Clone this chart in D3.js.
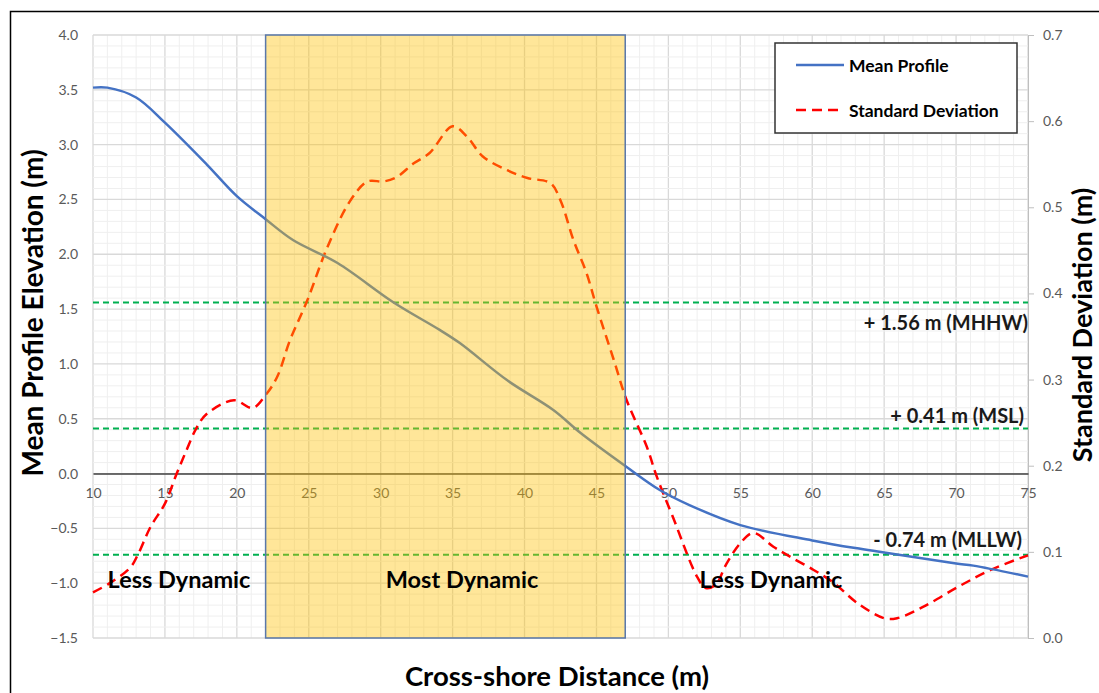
<!DOCTYPE html>
<html>
<head>
<meta charset="utf-8">
<script src="https://cdn.jsdelivr.net/npm/d3@7"></script>
<style>
  body { margin: 0; background: #fff; }
  text { font-family: Lato, "Open Sans", sans-serif; }
</style>
</head>
<body>
<div id="chart"></div>
<script>
/********** Data **********/
var profileDist = [10, 11, 13, 15, 17.9, 20, 22, 23.9, 27, 30.9, 34.1, 35.5, 38.8, 42, 43.9, 47.1, 49.4, 51.5, 55, 60, 63, 65, 70, 71.2, 75]
var profileElev = [3.52, 3.52, 3.43, 3.20, 2.82, 2.53, 2.32, 2.13, 1.92, 1.56, 1.31, 1.19, 0.85, 0.58, 0.37, 0.06, -0.15, -0.29, -0.47, -0.61, -0.68, -0.72, -0.82, -0.84, -0.94]

var sdDist = [10, 11.2, 12.6, 13.1, 14, 15, 15.8, 16.5, 17.2, 17.9, 19.8, 21.1, 22, 22.8, 23.7, 24.9, 26.3, 27.9, 29.1, 30.2, 31.1, 32.3, 33.4, 35, 36, 37.1, 38.8, 40.2, 41.8, 42.5, 43.4, 44.3, 45, 46.2, 47.1, 48.5, 49.2, 50.3, 52, 52.6, 53.3, 54, 55, 55.9, 57.3, 58.5, 60.1, 61.5, 63.1, 65, 65.9, 67.7, 70.1, 72.4, 75]
var sdValue = [0.053, 0.064, 0.082, 0.096, 0.129, 0.156, 0.19, 0.218, 0.244, 0.26, 0.276, 0.267, 0.282, 0.303, 0.346, 0.392, 0.454, 0.508, 0.53, 0.53, 0.535, 0.551, 0.563, 0.594, 0.582, 0.559, 0.543, 0.534, 0.528, 0.508, 0.462, 0.424, 0.385, 0.323, 0.276, 0.222, 0.187, 0.141, 0.071, 0.058, 0.062, 0.085, 0.11, 0.122, 0.106, 0.094, 0.079, 0.064, 0.041, 0.023, 0.023, 0.036, 0.059, 0.079, 0.096]

// tidal datums (m)
var datumValues = [1.56, 0.41, -0.74]
var datumLabels = ["+ 1.56 m (MHHW)", "+ 0.41 m (MSL)", "- 0.74 m (MLLW)"]

// zones
var zoneStart = [10, 22, 47]
var zoneEnd = [22, 47, 75]
var zoneLabels = ["Less Dynamic", "Most Dynamic", "Less Dynamic"]

var xTicks = [10, 15, 20, 25, 30, 35, 40, 45, 50, 55, 60, 65, 70, 75]
var yTicks = [-1.5, -1.0, -0.5, 0.0, 0.5, 1.0, 1.5, 2.0, 2.5, 3.0, 3.5, 4.0]
var y2Ticks = [0.0, 0.1, 0.2, 0.3, 0.4, 0.5, 0.6, 0.7]

/********** Layout **********/
var W = 1099, H = 693
var mLeft = 93, mRight = 1028, mTop = 35, mBottom = 638

var svg = d3.select("#chart").append("svg")
    .attr("width", W)
    .attr("height", H)

// outer frame
svg.append("rect")
    .attr("x", 10.5).attr("y", 11.5)
    .attr("width", 1100).attr("height", 700)
    .attr("fill", "#fff")
    .attr("stroke", "#000")
    .attr("stroke-width", 1.5)

var x = d3.scaleLinear().domain([10, 75]).range([mLeft, mRight])
var y = d3.scaleLinear().domain([-1.5, 4.0]).range([mBottom, mTop])
var y2 = d3.scaleLinear().domain([0, 0.7]).range([mBottom, mTop])

// grid (minor every 1 m / 0.1 m, major every 5 m / 0.5 m)
svg.append("g").selectAll("line")
    .data(d3.range(10, 76, 1))
    .join("line")
    .attr("x1", d => x(d)).attr("x2", d => x(d))
    .attr("y1", mTop).attr("y2", mBottom)
    .attr("stroke", d => d % 5 === 0 ? "#d9d9d9" : "#efefef")
    .attr("stroke-width", d => d % 5 === 0 ? 1.3 : 1)

svg.append("g").selectAll("line")
    .data(d3.range(-15, 41, 1))
    .join("line")
    .attr("x1", mLeft).attr("x2", mRight)
    .attr("y1", d => y(d / 10)).attr("y2", d => y(d / 10))
    .attr("stroke", d => d % 5 === 0 ? "#d9d9d9" : "#efefef")
    .attr("stroke-width", d => d % 5 === 0 ? 1.3 : 1)

// left axis labels (no ticks)
var yAxis = svg.append("g")
    .attr("transform", "translate(" + mLeft + ",0)")
    .call(d3.axisLeft(y).tickValues(yTicks).tickFormat(d3.format(".1f")).tickSize(0).tickPadding(15))
yAxis.select(".domain").remove()
yAxis.selectAll("text").attr("font-size", 14).attr("fill", "#595959")
  .attr("font-family", "Lato, sans-serif")

// right axis
var y2Axis = svg.append("g")
    .attr("transform", "translate(" + mRight + ",0)")
    .call(d3.axisRight(y2).tickValues(y2Ticks).tickFormat(d3.format(".1f")).tickSize(6).tickPadding(9))
y2Axis.select(".domain").attr("stroke", "#bfbfbf")
y2Axis.selectAll("line").attr("stroke", "#bfbfbf")
y2Axis.selectAll("text").attr("font-size", 14).attr("fill", "#595959")
  .attr("font-family", "Lato, sans-serif")

// x axis crossing at zero
var xAxis = svg.append("g")
    .attr("transform", "translate(0," + y(0) + ")")
    .call(d3.axisBottom(x).tickValues(xTicks).tickSize(0).tickPadding(15))
xAxis.select(".domain").attr("stroke", "#404040").attr("stroke-width", 1.5)
xAxis.selectAll("text").attr("font-size", 14).attr("fill", "#595959")
  .attr("font-family", "Lato, sans-serif")

// datum lines
svg.append("g").selectAll("line")
    .data(datumValues)
    .join("line")
    .attr("x1", mLeft).attr("x2", mRight)
    .attr("y1", d => y(d)).attr("y2", d => y(d))
    .attr("stroke", "#00b050")
    .attr("stroke-width", 2)
    .attr("stroke-dasharray", "6,4")

// series
var profileData = profileDist.map((d, i) => ({x: d, v: profileElev[i]}))
var sdData = sdDist.map((d, i) => ({x: d, v: sdValue[i]}))

svg.append("path")
    .datum(sdData)
    .attr("fill", "none")
    .attr("stroke", "#ff0000")
    .attr("stroke-width", 2.5)
    .attr("stroke-dasharray", "10,6")
    .attr("d", d3.line().curve(d3.curveCatmullRom)
      .x(d => x(d.x)).y(d => y2(d.v)))

svg.append("path")
    .datum(profileData)
    .attr("fill", "none")
    .attr("stroke", "#4472c4")
    .attr("stroke-width", 2.5)
    .attr("d", d3.line().curve(d3.curveCatmullRom)
      .x(d => x(d.x)).y(d => y(d.v)))

// most dynamic zone, drawn on top
svg.append("rect")
    .attr("x", x(zoneStart[1])).attr("y", mTop)
    .attr("width", x(zoneEnd[1]) - x(zoneStart[1]))
    .attr("height", mBottom - mTop)
    .attr("fill", "#ffc000")
    .attr("fill-opacity", 0.4)
    .attr("stroke", "#5a78aa")
    .attr("stroke-width", 1.5)

// zone labels
var zoneX = [179, 462, 771]
svg.append("g").selectAll("text")
    .data(zoneLabels)
    .join("text")
    .attr("x", (d, i) => zoneX[i])
    .attr("y", 588)
    .attr("text-anchor", "middle")
    .attr("font-size", 23.5)
    .attr("font-weight", "bold")
    .attr("fill", "#000")
    .text(d => d)

// datum labels
var datumLabelX = [1028, 1024, 1022]
var datumLabelY = [330, 423, 547]
svg.append("g").selectAll("text")
    .data(datumLabels)
    .join("text")
    .attr("x", (d, i) => datumLabelX[i])
    .attr("y", (d, i) => datumLabelY[i])
    .attr("text-anchor", "end")
    .attr("font-size", 20)
    .attr("font-weight", "bold")
    .attr("fill", "#1a1a1a")
    .text(d => d)

// axis titles
svg.append("text")
    .attr("transform", "translate(43,313) rotate(-90)")
    .attr("text-anchor", "middle")
    .attr("font-size", 28)
    .attr("font-weight", "bold")
    .text("Mean Profile Elevation (m)")

svg.append("text")
    .attr("transform", "translate(1092,325) rotate(-90)")
    .attr("text-anchor", "middle")
    .attr("font-size", 27)
    .attr("font-weight", "bold")
    .text("Standard Deviation (m)")

svg.append("text")
    .attr("x", 557).attr("y", 686)
    .attr("text-anchor", "middle")
    .attr("font-size", 27.5)
    .attr("font-weight", "bold")
    .text("Cross-shore Distance (m)")

// legend
var legend = svg.append("g")
legend.append("rect")
    .attr("x", 775).attr("y", 43)
    .attr("width", 242).attr("height", 90)
    .attr("fill", "#fff")
    .attr("stroke", "#333")
    .attr("stroke-width", 1.5)
legend.append("line")
    .attr("x1", 796).attr("x2", 844).attr("y1", 65).attr("y2", 65)
    .attr("stroke", "#4472c4").attr("stroke-width", 2.5)
legend.append("line")
    .attr("x1", 796).attr("x2", 844).attr("y1", 110).attr("y2", 110)
    .attr("stroke", "#ff0000").attr("stroke-width", 2.5)
    .attr("stroke-dasharray", "10,6")
legend.append("text")
    .attr("x", 849).attr("y", 72)
    .attr("font-size", 17.5).attr("font-weight", "bold")
    .text("Mean Profile")
legend.append("text")
    .attr("x", 849).attr("y", 117)
    .attr("font-size", 17.5).attr("font-weight", "bold")
    .text("Standard Deviation")
</script>
</body>
</html>
